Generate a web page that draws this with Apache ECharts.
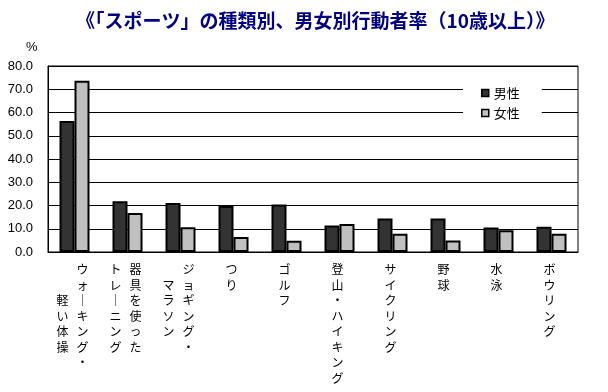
<!DOCTYPE html>
<html>
<head>
<meta charset="utf-8">
<script src="https://cdn.jsdelivr.net/npm/echarts@6/dist/echarts.min.js"></script>
<style>
html,body{margin:0;padding:0;background:#fff;}
#main{width:608px;height:392px;}
</style>
</head>
<body>
<div id="main"></div>
<script>
// ---- data ----
const titleText = '《「スポーツ」の種類別、男女別行動者率（10歳以上）》';
const unitLabel = '%';
const categories = ['ウォーキング・軽い体操', '器具を使ったトレーニング', 'ジョギング・マラソン', 'つり', 'ゴルフ', '登山・ハイキング', 'サイクリング', '野球', '水泳', 'ボウリング'];
const labelColumns = [
  ['ウォーキング・', '軽い体操'],
  ['器具を使った', 'トレーニング'],
  ['ジョギング・', 'マラソン'],
  ['つり'],
  ['ゴルフ'],
  ['登山・ハイキング'],
  ['サイクリング'],
  ['野球'],
  ['水泳'],
  ['ボウリング']
];
const seriesNames = ['男性', '女性'];
const maleValues = [56.3, 21.8, 21.1, 19.8, 20.4, 11.4, 14.4, 14.4, 10.5, 10.9];
const femaleValues = [73.7, 16.8, 10.6, 6.4, 4.8, 12.0, 7.9, 4.9, 9.4, 7.9];
const yTicks = { min: 0, max: 80, interval: 10 };

// ---- layout helpers ----
const secondColumnRowOffset = [2, 0, 1, 0, 0, 0, 0, 0, 0, 0];
function toVertical(s) { return s.replace(/ー/g, '｜'); }

function buildLabel(value, index) {
  const cols = labelColumns[index];
  const right = Array.from(toVertical(cols[0]));
  if (cols.length === 1) {
    return right.map(ch => '{w|' + ch + '}').join('\n');
  }
  const left = Array.from(toVertical(cols[1]));
  const off = secondColumnRowOffset[index];
  const n = Math.max(right.length, left.length + off);
  const lines = [];
  for (let i = 0; i < n; i++) {
    const L = (i - off >= 0 && i - off < left.length) ? left[i - off] : '　';
    const R = i < right.length ? right[i] : '　';
    lines.push('{w|' + L + '}{w|' + R + '}');
  }
  return lines.join('\n');
}

const chart = echarts.init(document.getElementById('main'), null, { renderer: 'canvas' });
const jp = "'Noto Sans CJK JP', sans-serif";
chart.setOption({
  backgroundColor: '#ffffff',
  animation: false,
  title: [
    {
      text: titleText,
      left: 76, top: 11, padding: 0,
      textStyle: { color: '#000080', fontSize: 19, fontWeight: 'bold', fontFamily: jp }
    },
    {
      text: unitLabel,
      left: 26, top: 41, padding: 0,
      textStyle: { color: '#000', fontSize: 13, fontWeight: 'normal', fontFamily: "'Liberation Sans', sans-serif" }
    }
  ],
  legend: {
    data: seriesNames,
    orient: 'vertical',
    left: 463, top: 82,
    padding: [4, 22, 4, 18],
    backgroundColor: '#ffffff',
    itemWidth: 7, itemHeight: 7, itemGap: 6,
    icon: 'rect',
    itemStyle: { borderColor: '#000', borderWidth: 1.5 },
    textStyle: { color: '#000', fontSize: 13, fontFamily: jp, lineHeight: 14 }
  },
  grid: {
    left: 48, right: 30, top: 66, bottom: 140,
    show: true, borderColor: '#000', borderWidth: 1, backgroundColor: 'transparent'
  },
  xAxis: {
    type: 'category',
    data: categories,
    axisLine: { show: true, lineStyle: { color: '#000', width: 1 } },
    axisTick: { show: false },
    splitLine: { show: false },
    axisLabel: {
      interval: 0,
      margin: 10,
      padding: [0, 4, 0, 0],
      formatter: buildLabel,
      rich: {
        w: { width: 20, align: 'center', fontSize: 12, lineHeight: 15.5, color: '#000', fontFamily: jp }
      }
    }
  },
  yAxis: {
    type: 'value',
    min: yTicks.min, max: yTicks.max, interval: yTicks.interval,
    axisLine: { show: true, lineStyle: { color: '#000', width: 1 } },
    axisTick: { show: false },
    splitLine: { show: true, lineStyle: { color: '#000', width: 1 } },
    axisLabel: {
      margin: 15,
      color: '#000', fontSize: 13, fontFamily: "'Liberation Sans', sans-serif",
      formatter: v => v.toFixed(1)
    }
  },
  series: [
    {
      name: seriesNames[0], type: 'bar', data: maleValues,
      barWidth: 15, barGap: '0%',
      itemStyle: { color: '#333333', borderColor: '#000', borderWidth: 2 }
    },
    {
      name: seriesNames[1], type: 'bar', data: femaleValues,
      barWidth: 15, barGap: '0%',
      itemStyle: { color: '#c0c0c0', borderColor: '#000', borderWidth: 2 }
    }
  ]
});
</script>
</body>
</html>
